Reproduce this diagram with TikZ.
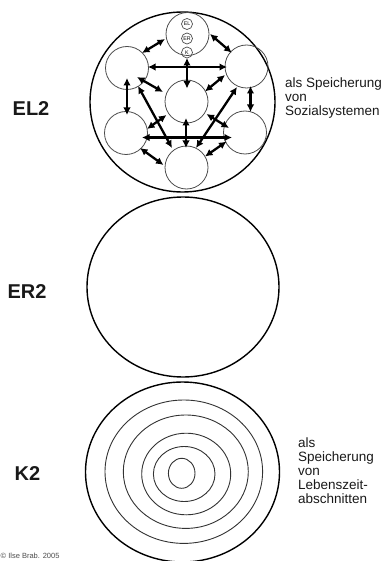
\documentclass[tikz,border=0pt]{standalone}
\usepackage{fontspec}
\setmainfont{Liberation Sans}
\usetikzlibrary{arrows.meta,calc}
\begin{document}
\begin{tikzpicture}[x=1pt,y=-1pt,
  sc/.style={circle,draw=black!70,line width=0.8pt,minimum size=43pt,inner sep=0pt},
  tc/.style={circle,draw=black!70,line width=0.7pt,minimum size=11pt,inner sep=0pt,font=\fontsize{5.3}{6}\selectfont},
  dar/.style={line width=2.3pt,{Latex[length=7.5pt,width=7.5pt]}-{Latex[length=7.5pt,width=7.5pt]}},
  big/.style={line width=1.4pt,black},
  ring/.style={line width=0.9pt,black!80},
  lbl/.style={font=\fontsize{20}{20}\selectfont\bfseries,text=black!90,inner sep=0pt},
  txt/.style={anchor=base west,inner sep=0pt,font=\fontsize{13.5}{14}\selectfont,text=black!90}]
\useasboundingbox (0,0) rectangle (385,561);

% ---------- top diagram ----------
\draw[big] (182.5,102) ellipse [x radius=92.5pt, y radius=90pt];
\node[sc] (t)  at (187.5,34) {};
\node[sc] (ul) at (127,68) {};
\node[sc] (ur) at (246.5,66.5) {};
\node[sc] (c)  at (186.5,101.5) {};
\node[sc] (ll) at (126,133) {};
\node[sc] (lr) at (245,132.5) {};
\node[sc] (b)  at (186.5,167.5) {};
\node[tc] (el) at (187,24) {EL};
\node[tc] (er) at (187,38.5) {ER};
\node[tc] (k)  at (187,52.5) {K};

\draw[dar] ($(t)+(-22.5,5)$) -- ($(ul)+(15,-15)$);
\draw[dar] ($(t)+(22.5,0)$) -- ($(ur)+(-14.8,-13.8)$);
\draw[dar] ($(ul)+(21,-1)$) -- ($(ur)+(-19.5,0.5)$);
\draw[dar] ($(t)+(-0.5,24)$) -- ($(c)+(0.5,-13)$);
\draw[dar] ($(ul)+(10,9)$) -- ($(c)+(-23.5,-9.5)$);
\draw[dar] ($(ur)+(-21.5,8.5)$) -- ($(c)+(18.5,-10)$);
\draw[dar] ($(ul)+(0,10)$) -- ($(ll)+(1,-18)$);
\draw[dar] ($(ur)+(4,19.5)$) -- ($(lr)+(5.5,-20.5)$);
\draw[dar] ($(ul)+(11,18)$) -- ($(b)+(-14.5,-19.5)$);
\draw[dar] ($(ur)+(-9.5,20.5)$) -- ($(b)+(9.5,-19.5)$);
\draw[dar] ($(c)+(-20,13.5)$) -- ($(ll)+(21,-4)$);
\draw[dar] ($(c)+(20,12.5)$) -- ($(lr)+(-16,-4.5)$);
\draw[dar] ($(c)+(-0.5,16.5)$) -- ($(b)+(-0.5,-19.5)$);
\draw[dar] ($(ll)+(16,4.5)$) -- ($(lr)+(-13,5)$);
\draw[dar] ($(ll)+(14,15)$) -- ($(b)+(-23,-2.5)$);
\draw[dar] ($(lr)+(-18.5,9)$) -- ($(b)+(18.5,-11)$);

% ---------- middle diagram ----------
\draw[big] (183,287) ellipse [x radius=96pt, y radius=90pt];

% ---------- bottom diagram ----------
\draw[big] (182.5,472) ellipse [x radius=97pt, y radius=90pt];
\draw[ring] (183.8,471.7) ellipse [x radius=78.8pt, y radius=71.7pt];
\draw[ring] (185.8,471.7) ellipse [x radius=62.5pt, y radius=56.7pt];
\draw[ring] (186.2,474) ellipse [x radius=44.5pt, y radius=40.8pt];
\draw[ring] (184.2,474) ellipse [x radius=30.8pt, y radius=27.5pt];
\draw[ring] (181.7,473.3) ellipse [x radius=13.3pt, y radius=15pt];

% ---------- labels ----------
\node[lbl] (l1) at (31,109) {EL2};
\node[lbl] (l2) at (27,292) {ER2};
\node[lbl] (l3) at (27.5,474) {K2};

\node[txt] (a1) at (285,88) {als Speicherung};
\node[txt] (a2) at (285,102) {von};
\node[txt] (a3) at (285,116) {Sozialsystemen};

\node[txt] (b1) at (298,447) {als};
\node[txt] (b2) at (298,461) {Speicherung};
\node[txt] (b3) at (298,475) {von};
\node[txt] (b4) at (298,489) {Lebenszeit-};
\node[txt] (b5) at (298,503) {abschnitten};

\node[anchor=base west,inner sep=0pt,font=\fontsize{7.5}{8}\selectfont,text=black!70] (cp) at (0.5,558) {© Ilse Brab. 2005};
\end{tikzpicture}
\end{document}
